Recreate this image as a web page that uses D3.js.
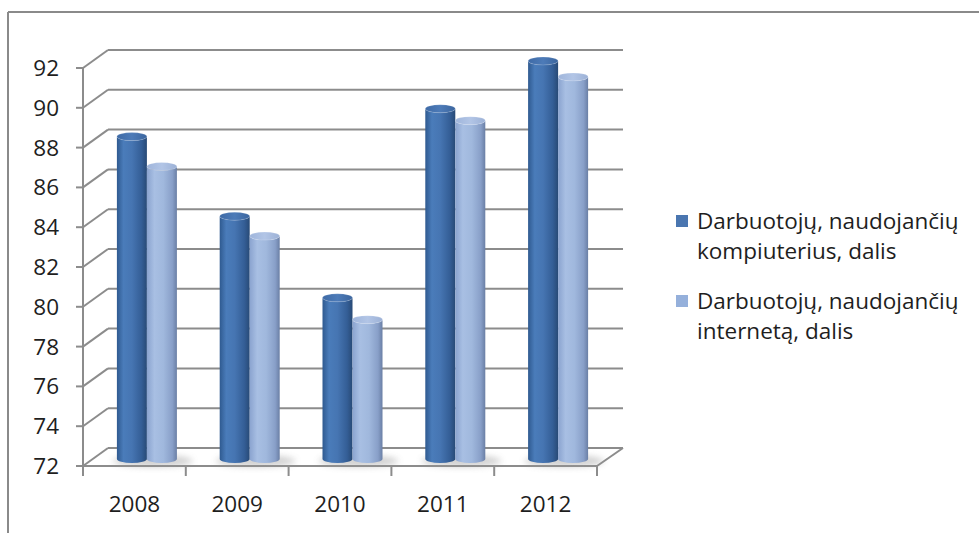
<!DOCTYPE html>
<html>
<head>
<meta charset="utf-8">
<script src="https://cdn.jsdelivr.net/npm/d3@7"></script>
<style>
  html, body { margin: 0; padding: 0; background: #fff; }
  svg { display: block; font-family: "Open Sans", Lato, sans-serif; }
</style>
</head>
<body>
<svg id="chart" width="979" height="533"></svg>
<script>
// Data
const years = ["2008", "2009", "2010", "2011", "2012"];
const computers = [88.1, 84.1, 80.0, 89.5, 91.9];
const internet = [86.6, 83.1, 78.9, 88.9, 91.1];
const seriesNames = [
  ["Darbuotojų, naudojančių", "kompiuterius, dalis"],
  ["Darbuotojų, naudojančių", "internetą, dalis"]
];
const yTicks = [72, 74, 76, 78, 80, 82, 84, 86, 88, 90, 92];

const svg = d3.select("#chart");
const gridColor = "#8c8c8c";
const textColor = "#1e1e1e";
const fontSize = 22.5;

// Frame around the chart area
svg.append("line").attr("x1", 8).attr("x2", 979).attr("y1", 12).attr("y2", 12)
  .attr("stroke", "#8a8a8a").attr("stroke-width", 2);
svg.append("line").attr("x1", 8).attr("x2", 8).attr("y1", 12).attr("y2", 533)
  .attr("stroke", "#8a8a8a").attr("stroke-width", 2);

// Scales: front plane, with a fixed depth offset for the back wall
const y = d3.scaleLinear().domain([72, 92]).range([466, 68]);
const x = d3.scaleBand().domain(years).range([83, 597]);
const depthX = 25, depthY = -18;

const defs = svg.append("defs");
function cylGradient(id, stops) {
  const g = defs.append("linearGradient").attr("id", id)
    .attr("x1", "0%").attr("x2", "100%").attr("y1", "0%").attr("y2", "0%");
  stops.forEach(([o, c]) => g.append("stop").attr("offset", o).attr("stop-color", c));
}
cylGradient("gDark", [["0%", "#2f5a90"], ["22%", "#4a7cba"], ["50%", "#4675b2"], ["82%", "#345e96"], ["100%", "#284a76"]]);
cylGradient("gLight", [["0%", "#8aa3cf"], ["25%", "#a8bfe3"], ["55%", "#a0b8dd"], ["85%", "#889fc8"], ["100%", "#6a7fa5"]]);
cylGradient("tDark", [["0%", "#3e6aa6"], ["50%", "#4d7bb8"], ["100%", "#3b659e"]]);
cylGradient("tLight", [["0%", "#9fb5db"], ["50%", "#b2c5e6"], ["100%", "#9cb1d6"]]);
const blur = defs.append("filter").attr("id", "soft").attr("x", "-50%").attr("y", "-50%")
  .attr("width", "200%").attr("height", "200%");
blur.append("feGaussianBlur").attr("stdDeviation", 3);

// Walls: back gridlines and side-wall diagonals
const grid = svg.append("g").attr("stroke", gridColor).attr("stroke-width", 2).attr("fill", "none");
yTicks.forEach(v => {
  grid.append("line")
    .attr("x1", 83 + depthX).attr("x2", 597 + depthX + 1)
    .attr("y1", y(v) + depthY).attr("y2", y(v) + depthY);
  grid.append("line")
    .attr("x1", 83).attr("x2", 83 + depthX)
    .attr("y1", y(v)).attr("y2", y(v) + depthY);
  grid.append("line")
    .attr("x1", 76).attr("x2", 83)
    .attr("y1", y(v)).attr("y2", y(v));
});
// Front vertical axis
grid.append("line").attr("x1", 83).attr("x2", 83).attr("y1", y(92)).attr("y2", y(72));
// Floor front and right edges
grid.append("line").attr("x1", 83).attr("x2", 597).attr("y1", y(72)).attr("y2", y(72));
grid.append("line").attr("x1", 597).attr("x2", 597 + depthX + 1)
  .attr("y1", y(72)).attr("y2", y(72) + depthY);
// Category ticks
const bounds = years.map(d => x(d)).concat([x.range()[1]]);
bounds.forEach(bx => {
  grid.append("line").attr("x1", bx).attr("x2", bx).attr("y1", y(72)).attr("y2", y(72) + 10);
});

// Y labels
svg.append("g").selectAll("text").data(yTicks).join("text")
  .attr("x", 59).attr("y", d => y(d) + 8)
  .attr("text-anchor", "end").attr("font-size", fontSize).attr("fill", textColor)
  .text(d => d);

// X labels
svg.append("g").selectAll("text").data(years).join("text")
  .attr("x", d => x(d) + x.bandwidth() / 2).attr("y", 512)
  .attr("text-anchor", "middle").attr("font-size", fontSize).attr("fill", textColor)
  .text(d => d);

// Cylinders sit halfway into the depth
const barW = 30, ry = 4;
const midX = depthX / 2, midY = depthY / 2 + 2;
const series = [
  { values: computers, body: "url(#gDark)", top: "url(#tDark)", off: -barW },
  { values: internet, body: "url(#gLight)", top: "url(#tLight)", off: 0 }
];

const bars = svg.append("g");
// Soft floor shadows
years.forEach((yr, i) => {
  const cx = x(yr) + x.bandwidth() / 2 + midX;
  bars.append("ellipse").attr("cx", cx + 6).attr("cy", y(72) + midY + 2)
    .attr("rx", barW + 10).attr("ry", 6).attr("fill", "#9a9a9a").attr("opacity", 0.45)
    .attr("filter", "url(#soft)");
});

years.forEach((yr, i) => {
  const cx = x(yr) + x.bandwidth() / 2 + midX;
  series.forEach(s => {
    const x0 = cx + s.off, x1 = x0 + barW, rx = barW / 2;
    const yt = y(s.values[i]) + midY - 2, yb = y(72) + midY;
    bars.append("path")
      .attr("d", `M${x0},${yt} L${x0},${yb} A${rx},${ry} 0 0 0 ${x1},${yb} L${x1},${yt} A${rx},${ry} 0 0 1 ${x0},${yt} Z`)
      .attr("fill", s.body);
    bars.append("ellipse").attr("cx", x0 + rx).attr("cy", yt)
      .attr("rx", rx).attr("ry", ry).attr("fill", s.top)
      .attr("stroke", "#ffffff").attr("stroke-opacity", 0.25).attr("stroke-width", 0.6);
  });
});

// Legend
const legendColors = ["#4a76b0", "#95b0db"];
const legendTop = [221, 301];
const legend = svg.append("g");
seriesNames.forEach((lines, k) => {
  legend.append("rect").attr("x", 676).attr("y", legendTop[k] - 6)
    .attr("width", 12).attr("height", 12).attr("fill", legendColors[k]);
  lines.forEach((t, j) => {
    legend.append("text").attr("x", 697).attr("y", legendTop[k] + 8 + j * 30)
      .attr("font-size", fontSize).attr("fill", textColor).text(t);
  });
});
</script>
</body>
</html>
